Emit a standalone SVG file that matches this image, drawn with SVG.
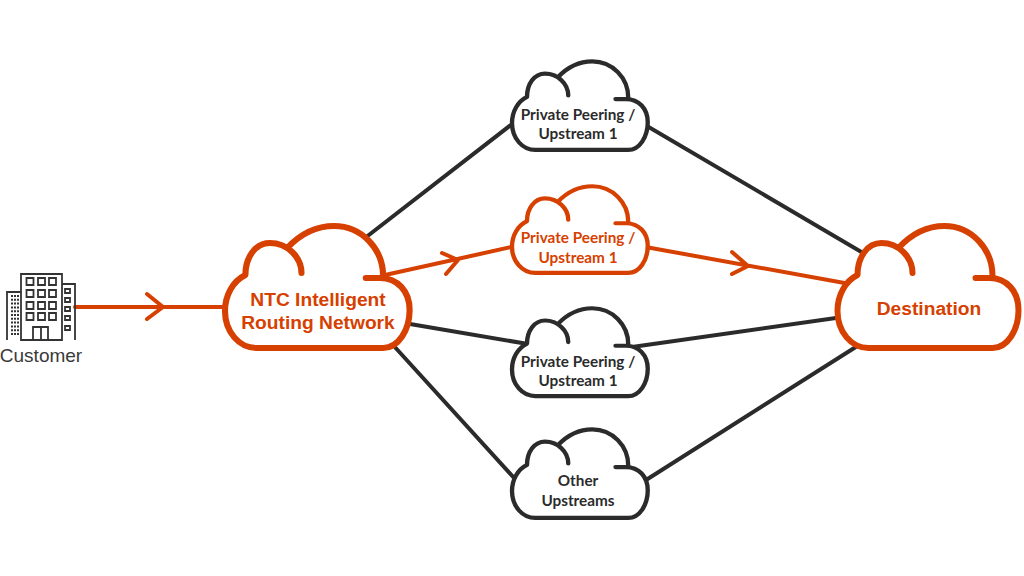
<svg xmlns="http://www.w3.org/2000/svg" xmlns:xlink="http://www.w3.org/1999/xlink" width="1024" height="576" viewBox="0 0 1024 576">
<style>
.bg{fill:#fff}
.k{stroke:#2b2b2b;stroke-width:4;fill:none;stroke-linecap:butt}
.o{stroke:#d64000;stroke-width:4;fill:none;stroke-linecap:round;stroke-linejoin:round}
.big{stroke:#d64000;stroke-width:6;stroke-linecap:round;stroke-linejoin:round}
.so{stroke:#d64000;stroke-width:5.800;stroke-linecap:round;stroke-linejoin:round}
.sk{stroke:#2b2b2b;stroke-width:5.800;stroke-linecap:round;stroke-linejoin:round}
.tb{font-family:"Liberation Sans",Arial,sans-serif;font-weight:700;font-size:19.200px;fill:#d64000;text-anchor:middle}
.ts{font-family:Lato,"Open Sans",sans-serif;font-weight:700;font-size:15.300px;text-anchor:middle;fill:#2b2b2b}
.to{fill:#d64000}
.i{fill:none;stroke:#333;stroke-width:1.800}
</style>
<defs>
<g id="cloud">
<path fill="#fff" stroke="none" d="M31 121H155C170 121 181 103 181 83C181 64 169 51 155 49C155 22 134 -1 107 -1C88 -1 72 9 61 21C56 18 50 16 44 16C30 16 20 30 20 48C8 54 0 68 0 84C0 105 14 121 31 121Z"/>
<path fill="none" d="M31 121H155C170 121 181 103 181 83C181 64 169 51 152 51H138M155 49C155 22 134 -1 107 -1C88 -1 72 9 61 21M75 46C75 30 61 16 44 16C30 16 20 30 20 48C8 54 0 68 0 84C0 105 14 121 31 121"/>
</g>
</defs>
<rect class="bg" width="1024" height="576"/>
<g id="connectors">
<path class="k" d="M365 238L525 114M635 119L875 260M410 324L528 344M625 348L850 316M393 345L525 490M635 487L870 338"/>
<path class="o" d="M75 307H224M147 294L163 307L147 319M385 275L525 244M442 253L458 260L446 274M640 246L850 284M732 252L748 266L732 274"/>
</g>
<g id="customer">
<path class="i" d="M21 340H62V274H21ZM62 284H75V340M21 292H7V340M33 340V327H48V340M41 327V340"/>
<path class="i" d="M26.500 278h7v7h-7zM38 278h7v7h-7zM49 278h7v7h-7zM26.500 290h7v7h-7zM38 290h7v7h-7zM49 290h7v7h-7zM26.500 302h7v7h-7zM38 302h7v7h-7zM49 302h7v7h-7zM26.500 313h7v7h-7zM38 313h7v7h-7zM49 313h7v7h-7zM65 289h5v4h-5zM65 298h5v4h-5zM65 307h5v4h-5zM65 316h5v4h-5zM65 326h5v4h-5z"/>
<path d="M12 295V335M15 295V335M18 295V335" fill="none" stroke="#333" stroke-width="2" stroke-dasharray="2 1.800"/>
<text x="41" y="362" font-family="Liberation Sans,Arial,sans-serif" font-size="19" fill="#3a3a3a" text-anchor="middle">Customer</text>
</g>
<g id="ntc">
<use xlink:href="#cloud" transform="translate(225 227) scale(1.020 1)" class="big"/>
<text class="tb" x="318" y="306">NTC Intelligent</text>
<text class="tb" x="318" y="329">Routing Network</text>
</g>
<g id="peer1">
<use xlink:href="#cloud" transform="translate(512 62) scale(.75 .727)" class="sk"/>
<text class="ts" x="578" y="119.500">Private Peering /</text>
<text class="ts" x="578" y="139">Upstream 1</text>
</g>
<g id="peer2">
<use xlink:href="#cloud" transform="translate(512 187) scale(.75 .71)" class="so"/>
<text class="ts to" x="578" y="243">Private Peering /</text>
<text class="ts to" x="578" y="263">Upstream 1</text>
</g>
<g id="peer3">
<use xlink:href="#cloud" transform="translate(512 309) scale(.75 .72)" class="sk"/>
<text class="ts" x="578" y="366.500">Private Peering /</text>
<text class="ts" x="578" y="386">Upstream 1</text>
</g>
<g id="other">
<use xlink:href="#cloud" transform="translate(512 430) scale(.75 .727)" class="sk"/>
<text class="ts" x="578" y="486">Other</text>
<text class="ts" x="578" y="506">Upstreams</text>
</g>
<g id="destination">
<use xlink:href="#cloud" transform="translate(837.500 227)" class="big"/>
<text class="tb" x="929" y="315">Destination</text>
</g>
</svg>
